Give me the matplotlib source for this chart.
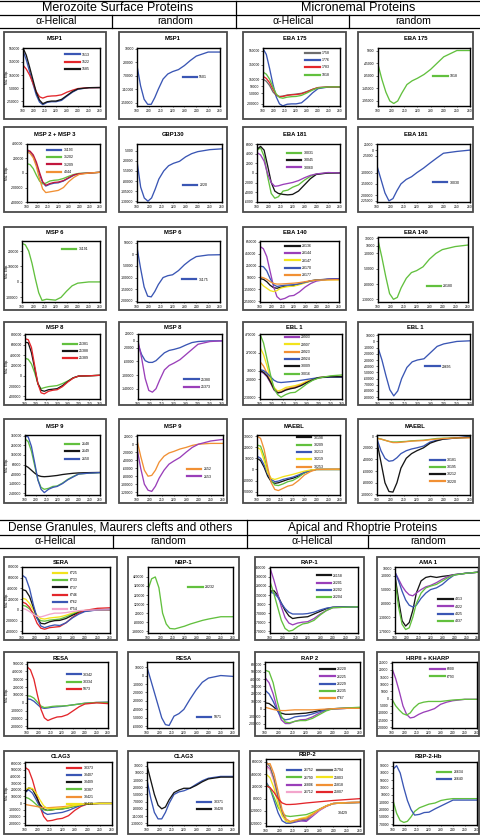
import matplotlib
matplotlib.use("Agg")
import matplotlib.pyplot as plt
from matplotlib.patches import Rectangle
from matplotlib.lines import Line2D

plt.rcParams['font.family'] = ['Liberation Sans', 'DejaVu Sans']

# ---------------------------------------------------------------- data
# wavelengths (nm) at which the curves were read; values are in thousands (Mol. Ellip.)
WL = [190, 193, 196, 199, 202, 205, 208, 212, 216, 220, 225, 230, 235, 240, 250, 260]
XTICKS = [190, 200, 210, 220, 230, 240, 250, 260]

MSP1_A_LABELS = ['1513', '1522', '1585']
MSP1_A_VALUES = [[520, 380, 200, 20, -150, -260, -300, -265, -255, -255, -235, -170, -110, -65, -42, -40],
                 [300, 240, 150, 30, -100, -180, -200, -175, -168, -165, -150, -110, -80, -55, -42, -40],
                 [560, 450, 270, 80, -110, -230, -285, -255, -245, -245, -220, -160, -100, -60, -42, -40]]
MSP1_A_YTICKS = [550, 350, 150, -50, -250]

MSP1_R_LABELS = ['5501']
MSP1_R_VALUES = [[-40, -100, -140, -155, -155, -135, -110, -80, -65, -58, -52, -40, -25, -12, 0, 0]]
MSP1_R_YTICKS = [10, -30, -70, -110, -150]

EBA175_A_LABELS = ['1758', '1776', '1783', '1818']
EBA175_A_VALUES = [[150, 120, 60, -30, -80, -95, -90, -75, -68, -62, -50, -25, 5, 30, 40, 40],
                   [580, 500, 300, 80, -100, -200, -228, -205, -200, -200, -185, -120, -45, 15, 40, 40],
                   [190, 160, 100, 10, -70, -100, -95, -80, -72, -68, -58, -30, 5, 30, 40, 40],
                   [250, 220, 150, 40, -60, -110, -120, -105, -98, -95, -80, -45, -5, 25, 40, 40]]
EBA175_A_YTICKS = [550, 350, 150, 50, -50, -200]

EBA175_R_LABELS = ['1818']
EBA175_R_VALUES = [[-50, -110, -160, -195, -205, -195, -165, -130, -115, -105, -90, -70, -45, -20, 5, 5]]
EBA175_R_YTICKS = [5, -45, -95, -145, -195]

MSP23_LABELS = ['31193', '31202', '31209', '4044']
MSP23_VALUES = [[310, 290, 230, 120, -20, -130, -180, -155, -140, -135, -110, -70, -30, -10, 0, 10],
                [130, 115, 60, -30, -110, -150, -140, -110, -100, -95, -75, -45, -20, -5, 0, 10],
                [320, 300, 250, 150, 10, -120, -170, -145, -130, -125, -105, -65, -25, -10, 0, 10],
                [290, 270, 210, 90, -80, -220, -270, -260, -250, -240, -200, -120, -60, -20, 0, 10]]
MSP23_YTICKS = [400, 200, 0, -200, -400]

GBP130_LABELS = ['2220']
GBP130_VALUES = [[-30, -95, -122, -130, -122, -100, -75, -55, -42, -36, -31, -20, -12, -7, -2, 0]]
GBP130_YTICKS = [-5, -30, -55, -80, -105, -130]

EBA181_A_LABELS = ['30031', '30045', '30060']
EBA181_A_VALUES = [[4.8, 5.3, 3.5, -0.8, -4.3, -5.3, -5.0, -3.8, -3.6, -3.0, -2.5, -1.5, -0.7, -0.2, 0, 0],
                   [5.0, 5.6, 4.8, 1.5, -2.0, -3.8, -4.3, -4.5, -4.6, -4.5, -3.8, -2.5, -1.2, -0.3, 0, 0],
                   [4.3, 3.8, 2.5, -0.2, -2.0, -2.8, -2.7, -2.4, -2.2, -2.0, -1.6, -1.0, -0.5, -0.2, 0.1, 0]]
EBA181_A_YTICKS = [6, 4, 2, 0, -2, -4, -6]

EBA181_R_LABELS = ['30030']
EBA181_R_VALUES = [[-70, -130, -190, -225, -215, -180, -150, -130, -118, -100, -80, -57, -35, -14, -6, 0]]
EBA181_R_YTICKS = [25, 0, -25, -100, -150, -200, -225]

MSP6_A_LABELS = ['31191']
MSP6_A_VALUES = [[250, 240, 200, 120, 20, -70, -120, -112, -115, -118, -100, -60, -25, -8, 0, 0]]
MSP6_A_YTICKS = [200, 100, 0, -100]

MSP6_R_LABELS = ['31175']
MSP6_R_VALUES = [[30, -60, -140, -180, -183, -160, -130, -100, -92, -88, -70, -45, -25, -10, -3, -2]]
MSP6_R_YTICKS = [50, 0, -50, -100, -150, -200]

EBA140_A_LABELS = ['28136', '28144', '28147', '28170', '28177']
EBA140_A_VALUES = [[30, 20, -20, -80, -120, -130, -115, -100, -95, -85, -60, -30, -5, 10, 20, 30],
                   [570, 530, 400, 150, -100, -270, -320, -300, -260, -250, -190, -110, -50, -10, 20, 30],
                   [-30, -90, -130, -170, -185, -170, -130, -110, -100, -95, -70, -40, -10, 5, 10, 10],
                   [240, 230, 160, 30, -70, -100, -90, -80, -75, -70, -55, -30, -10, 5, 20, 25],
                   [60, 45, 20, -20, -50, -60, -60, -55, -50, -45, -35, -20, -5, 5, 10, 15]]
EBA140_A_YTICKS = [650, 450, 250, 50, -150, -350]

EBA140_R_LABELS = ['28180']
EBA140_R_VALUES = [[25, -20, -70, -115, -130, -125, -100, -75, -60, -55, -45, -25, -10, 0, 8, 12]]
EBA140_R_YTICKS = [30, 10, -10, -50, -90, -130]

MSP8_A_LABELS = ['25381', '25388', '25389']
MSP8_A_VALUES = [[340, 320, 230, 60, -150, -250, -230, -210, -200, -190, -150, -100, -40, -10, 0, 10],
                 [650, 640, 450, 150, -150, -280, -300, -270, -260, -250, -190, -110, -40, -5, 0, 10],
                 [720, 700, 550, 200, -150, -330, -350, -300, -280, -270, -210, -120, -45, -5, 0, 10]]
MSP8_A_YTICKS = [800, 600, 400, 200, 0, -200, -400]

MSP8_R_LABELS = ['25380', '25373']
MSP8_R_VALUES = [[-10, -40, -58, -63, -63, -58, -48, -35, -28, -25, -20, -12, -5, -2, 0, 0],
                 [0, -50, -110, -145, -150, -140, -115, -85, -72, -65, -55, -40, -25, -10, -2, 0]]
MSP8_R_YTICKS = [20, 0, -20, -60, -100, -140]

EBL1_A_LABELS = ['29903', '29907', '29923', '29924', '30009', '30016']
EBL1_A_VALUES = [[60, 40, 0, -70, -150, -185, -170, -145, -130, -120, -95, -60, -30, -10, 0, 0],
                 [330, 250, 120, -30, -120, -160, -150, -120, -110, -100, -80, -50, -30, -10, 0, 5],
                 [170, 120, 40, -60, -140, -175, -170, -140, -125, -115, -90, -60, -30, -10, 0, 0],
                 [80, 70, 40, 0, -40, -60, -65, -60, -55, -50, -40, -30, -20, -10, -5, -5],
                 [70, 50, 10, -60, -140, -180, -175, -150, -135, -125, -100, -65, -35, -10, 0, 0],
                 [480, 380, 200, 20, -130, -200, -230, -200, -180, -175, -130, -80, -40, -15, 10, 20]]
EBL1_A_YTICKS = [470, 270, 70, -30, -230]

EBL1_R_LABELS = ['29695']
EBL1_R_VALUES = [[-10, -30, -55, -78, -88, -80, -60, -42, -33, -30, -28, -18, -8, -4, 0, 1]]
EBL1_R_YTICKS = [10, 0, -10, -20, -30, -40, -50, -60, -70, -80, -90]

MSP9_A_LABELS = ['2148', '2149', '2150']
MSP9_A_VALUES = [[330, 300, 200, 50, -100, -180, -200, -190, -170, -165, -135, -95, -65, -40, -30, -25],
                 [50, 30, 0, -30, -55, -65, -68, -65, -60, -55, -45, -38, -32, -28, -25, -23],
                 [360, 350, 250, 80, -100, -200, -235, -200, -180, -170, -140, -100, -70, -40, -30, -25]]
MSP9_A_YTICKS = [360, 260, 160, 60, -40, -140, -240]

MSP9_R_LABELS = ['2152', '2153']
MSP9_R_VALUES = [[10, -30, -65, -80, -78, -65, -45, -30, -22, -18, -12, -8, -3, 0, 2, 2],
                 [-10, -60, -100, -115, -118, -105, -85, -65, -50, -42, -33, -20, -8, 0, 8, 12]]
MSP9_R_YTICKS = [20, 0, -20, -40, -60, -80, -100, -120]

MAEBL_A_LABELS = ['30198', '30209', '30213', '30219', '30253']
MAEBL_A_VALUES = [[10, 8, 2, -6, -11, -12.5, -12, -10.5, -9, -8, -6, -3, -1, 0, 0, 0],
                  [22, 21, 12, -2, -10, -14, -14.5, -13, -11, -10, -7, -3, -1, 0, 0, 0],
                  [12, 10, 4, -4, -9, -11, -10.5, -9, -8, -7, -5, -2.5, -1, 0, 0, 0],
                  [20, 18, 8, -3, -8, -9, -8, -6.5, -5.5, -4.5, -3, -1.5, -0.5, 0, 0, 0],
                  [30, 28, 18, 2, -12, -18, -19, -17, -15, -14, -10, -5, -2, 0, 0.2, 0.3]]
MAEBL_A_YTICKS = [30, 20, 10, 0, -10, -20]

MAEBL_R_LABELS = ['30181', '30195', '30212', '30220']
MAEBL_R_VALUES = [[-5, -25, -38, -43, -42, -37, -30, -25, -22, -20, -17, -10, -7, -5, -3, 0],
                  [-3, -5, -7, -9, -10, -10, -9.5, -9, -8, -7.5, -7, -5.5, -4, -3.5, -3, -2],
                  [-10, -45, -80, -95, -96, -80, -55, -38, -30, -25, -20, -12, -8, -5, -3, -2],
                  [-4, -5, -7, -9, -11, -11, -10.5, -9.5, -8.5, -8, -7.5, -6, -5, -4, -3, -3]]
MAEBL_R_YTICKS = [0, -20, -40, -60, -80, -100]

SERA_LABELS = ['6725', '6733', '6737', '6746', '6762', '6754']
SERA_VALUES = [[220, 200, 120, 0, -100, -160, -170, -150, -140, -130, -100, -60, -30, -10, 0, 0],
               [90, 70, 20, -60, -150, -200, -210, -190, -180, -170, -130, -80, -40, -15, 0, 0],
               [380, 360, 250, 50, -150, -250, -260, -220, -200, -195, -160, -100, -50, -20, 0, 0],
               [150, 120, 50, -80, -250, -340, -360, -330, -320, -310, -240, -140, -60, -10, 30, 40],
               [650, 600, 400, 100, -150, -300, -330, -300, -280, -290, -240, -150, -80, -30, 0, 10],
               [30, 10, -30, -80, -120, -130, -110, -80, -60, -60, -50, -30, -15, -5, 0, 0]]
SERA_YTICKS = [800, 600, 400, 200, 0, -200, -400]

NBP1_LABELS = ['28232']
NBP1_VALUES = [[280, 400, 420, 300, 20, -100, -150, -155, -140, -125, -100, -80, -60, -45, -20, -20]]
NBP1_YTICKS = [420, 320, 220, 120, 20, -80, -180]

RAP1_LABELS = ['26158', '26201', '26202', '26204']
RAP1_VALUES = [[170, 180, 130, 40, -40, -100, -130, -120, -115, -110, -80, -50, -20, -5, 0, 0],
               [430, 300, 150, 0, -120, -180, -200, -180, -170, -165, -130, -80, -40, -10, -5, 0],
               [160, 150, 110, 40, -20, -60, -80, -80, -80, -75, -60, -35, -15, -5, -2, 0],
               [280, 150, 0, -150, -240, -270, -260, -220, -190, -180, -150, -90, -40, -10, -5, 0]]
RAP1_YTICKS = [430, 330, 230, 130, 30, -70, -170, -270]

AMA1_LABELS = ['4313', '4322', '4325', '4337']
AMA1_VALUES = [[-10, -80, -140, -155, -145, -110, -60, -25, -15, -12, -15, -12, -10, -7, -3, 0],
               [0, -20, -40, -55, -65, -68, -60, -50, -42, -38, -30, -20, -12, -7, -3, 0],
               [0, -25, -55, -80, -95, -100, -95, -75, -60, -50, -45, -35, -20, -8, -3, 0],
               [-20, -100, -150, -165, -160, -130, -90, -60, -45, -40, -35, -25, -15, -8, -3, 0]]
AMA1_YTICKS = [10, -10, -50, -90, -130, -170]

RESA_A_LABELS = ['30342', '30334', '5873']
RESA_A_VALUES = [[50, 45, 20, -20, -60, -70, -65, -55, -50, -45, -35, -25, -15, -5, 5, 10],
                 [90, 85, 60, 10, -40, -60, -55, -45, -40, -40, -35, -25, -15, -5, 5, 5],
                 [460, 420, 300, 100, -80, -190, -225, -200, -180, -175, -150, -100, -50, -15, 0, -10]]
RESA_A_YTICKS = [500, 400, 300, 200, 100, 0, -100, -200, -300]

RESA_R_LABELS = ['5871']
RESA_R_VALUES = [[10, -5, -20, -35, -50, -58, -59, -48, -45, -40, -28, -17, -8, -3, 0, -1]]
RESA_R_YTICKS = [10, 0, -10, -20, -30, -40, -50, -60]

RAP2_LABELS = ['26220', '26225', '26229', '26235', '6767']
RAP2_VALUES = [[80, 70, 30, -20, -60, -75, -75, -70, -65, -60, -45, -25, -10, 0, 5, 10],
               [420, 350, 200, 0, -150, -200, -200, -170, -150, -145, -110, -60, -20, 0, 5, 10],
               [250, 200, 100, -20, -120, -150, -140, -110, -100, -95, -70, -40, -15, 0, 5, 10],
               [520, 500, 350, 100, -100, -180, -190, -170, -160, -160, -130, -80, -30, 0, 10, 20],
               [20, 5, -10, -20, -25, -25, -20, -15, -15, -15, -15, -10, -5, 0, 5, 5]]
RAP2_YTICKS = [600, 500, 400, 300, 200, 100, 0, -100, -200]

HRP_LABELS = ['6800', '6793']
HRP_VALUES = [[21, 14, 5, -5, -11, -13.5, -13, -11, -9.5, -8.5, -7, -4, -2.5, -1.5, -0.5, -0.5],
              [-0.5, -5, -8, -10.5, -11.5, -10, -6.5, -3.5, -2.5, -2, -2, -2, -1.5, -1, -0.5, -0.5]]
HRP_YTICKS = [25, 20, 15, 10, 5, 0, -5, -10, -15, -20]

CLAG3_A_LABELS = ['30373', '30407', '30409', '30387', '30421', '30439']
CLAG3_A_VALUES = [[540, 500, 350, 150, -50, -200, -270, -260, -240, -230, -190, -110, -50, -15, -5, -5],
                  [160, 200, 150, 50, -60, -140, -170, -160, -150, -140, -110, -70, -35, -15, -5, -5],
                  [160, 230, 210, 100, -20, -90, -110, -100, -90, -85, -70, -45, -25, -10, -5, -5],
                  [90, 70, 30, -20, -70, -100, -110, -100, -90, -90, -70, -45, -25, -10, -5, -5],
                  [-20, -30, -40, -50, -60, -70, -70, -65, -60, -55, -45, -30, -20, -10, -5, -5],
                  [200, 230, 220, 150, 50, -40, -80, -80, -75, -70, -55, -35, -20, -10, -5, -5]]
CLAG3_A_YTICKS = [600, 500, 400, 300, 200, 100, 0, -100, -200, -300]

CLAG3_R_LABELS = ['30371', '30428']
CLAG3_R_VALUES = [[-10, -60, -100, -118, -118, -100, -75, -50, -43, -40, -33, -22, -12, -5, 0, 0],
                  [30, -10, -50, -80, -90, -85, -65, -45, -38, -33, -33, -25, -15, -7, -2, -2]]
CLAG3_R_YTICKS = [30, 10, -10, -30, -50, -70, -90, -110, -130]

RBP2_LABELS = ['26752', '26790', '26806', '26712', '25794', '25803', '25818', '25807']
RBP2_VALUES = [[350, 250, 50, -150, -280, -320, -320, -300, -280, -270, -180, -100, -40, 0, 15, 20],
               [320, 250, 100, -60, -160, -200, -210, -200, -190, -180, -140, -90, -40, 0, 15, 20],
               [620, 560, 380, 100, -150, -280, -310, -290, -280, -290, -200, -110, -45, 0, 15, 20],
               [600, 550, 350, 80, -160, -280, -300, -280, -260, -250, -180, -100, -40, 0, 15, 20],
               [680, 600, 400, 100, -150, -290, -310, -280, -260, -250, -170, -90, -35, 0, 10, 15],
               [480, 420, 250, 0, -200, -290, -300, -270, -240, -220, -160, -90, -35, 0, 15, 20],
               [640, 650, 480, 200, -100, -250, -290, -270, -250, -240, -170, -95, -40, 0, 15, 20],
               [290, 260, 180, 80, 10, -15, -15, -10, 0, 10, 20, 30, 40, 50, 65, 80]]
RBP2_YTICKS = [680, 480, 280, 80, -120, -320]
RBP2_NOTE = '30429'

RBP2HB_LABELS = ['26634', '26640']
RBP2HB_VALUES = [[-5, -40, -60, -65, -62, -50, -35, -25, -20, -15, -12, -5, -2, 0, 0, 0],
                 [80, 90, 70, 30, -5, -30, -45, -43, -38, -37, -28, -20, -12, -4, -4, -4]]
RBP2HB_YTICKS = [90, 70, 50, 30, 10, -10, -30, -50, -70]

# ---------------------------------------------------------------- styles
BLUE, RED, GREEN, BLACK = '#3a56b4', '#e3262b', '#62c03e', '#161616'
PURPLE, YELLOW, ORANGE, GRAY = '#9a3fb9', '#f2e31c', '#f19034', '#6e6e6e'
PINK, CRIMSON = '#f3a5cc', '#c2173e'

W, H = 480, 835
fig = plt.figure(figsize=(4.8, 8.35), dpi=100)
fig.patch.set_facecolor('white')


def fx(x):
    return x / W


def fy(y):
    return 1 - y / H


def hline(y, x0=0, x1=W, lw=0.9):
    fig.add_artist(Line2D([fx(x0), fx(x1)], [fy(y), fy(y)], transform=fig.transFigure,
                          color='black', lw=lw))


def vline(x, y0, y1, lw=0.9):
    fig.add_artist(Line2D([fx(x), fx(x)], [fy(y0), fy(y1)], transform=fig.transFigure,
                          color='black', lw=lw))


def ftext(x, y, s, size, **kw):
    fig.text(fx(x), fy(y), s, fontsize=size, ha='center', va='center', **kw)


# headers ---------------------------------------------------------
hline(1); hline(14.5); hline(28)
vline(236, 1, 28); vline(112, 14.5, 28); vline(349, 14.5, 28)
ftext(118, 8, 'Merozoite Surface Proteins', 9)
ftext(358, 8, 'Micronemal Proteins', 9)
ftext(56, 21.5, 'α-Helical', 7.6)
ftext(175, 21.5, 'random', 7.6)
ftext(293, 21.5, 'α-Helical', 7.6)
ftext(413, 21.5, 'random', 7.6)

hline(520); hline(535); hline(548)
vline(247, 520, 548); vline(113, 535, 548); vline(368, 535, 548)
ftext(120, 528, 'Dense Granules, Maurers clefts and others', 8.5)
ftext(363, 528, 'Apical and Rhoptrie Proteins', 8.5)
ftext(55, 541.5, 'α-Helical', 7.6)
ftext(168, 541.5, 'random', 7.6)
ftext(312, 541.5, 'α-Helical', 7.6)
ftext(428, 541.5, 'random', 7.6)

# rows: (box top, box bottom, plot top, plot bottom, title y)
UP_ROWS = [(32, 119, 48, 106, 39), (127, 212, 144, 202, 135), (227, 310, 241, 302, 233),
           (322, 405, 334, 399, 328), (419, 503, 435, 495, 426)]
LO_ROWS = [(557, 640, 567, 633, 562), (652, 736, 662, 728, 658), (751, 834, 762, 825, 757)]
UP_COLS = [(4, 106), (119, 227), (243, 346), (358, 473)]
LO_COLS = [(4, 117), (128, 239), (255, 364), (377, 479)]


def panel(row, col, lower, plotx, title, labels, values, colors, ylim, yticks, leg,
          ylabel=False, ncol=1, scale=1000, plot_y=None, boxx=None, title_y=None):
    rows = LO_ROWS if lower else UP_ROWS
    cols = LO_COLS if lower else UP_COLS
    by0, by1, py0, py1, ty = rows[row]
    bx0, bx1 = cols[col] if boxx is None else boxx
    if plot_y is not None:
        py0, py1 = plot_y
    if title_y is not None:
        ty = title_y
    fig.add_artist(Rectangle((fx(bx0), fy(by1)), (bx1 - bx0) / W, (by1 - by0) / H,
                             transform=fig.transFigure, fill=False, ec='#4a4a4a', lw=1.3))
    px0, px1 = plotx
    ax = fig.add_axes([fx(px0), fy(py1), (px1 - px0) / W, (py1 - py0) / H])
    for lab, v, c in zip(labels, values, colors):
        ax.plot(WL, v, color=c, lw=0.95, label=lab)
    ax.set_xlim(190, 260)
    ax.set_ylim(*ylim)
    ax.set_xticks(XTICKS)
    ax.set_xticklabels([str(t) for t in XTICKS])
    ax.set_yticks(yticks)
    ax.set_yticklabels([f"{round(t * scale)}" for t in yticks])
    ax.tick_params(labelsize=2.4, length=1.4, width=0.4, pad=1.0)
    ax.tick_params(axis='x', length=1.0)
    for s in ax.spines.values():
        s.set_linewidth(1.0)
    ftext((bx0 + bx1) / 2, ty, title, 4.2, fontweight='bold')
    handles = [Line2D([0], [0], color=c, lw=1.6) for c in colors]
    ax.legend(handles, labels, loc='upper left', bbox_to_anchor=leg, frameon=False,
              fontsize=2.5, handlelength=4.2, handletextpad=0.6, labelspacing=0.95,
              borderaxespad=0, borderpad=0, ncol=ncol, columnspacing=1.2)
    if ylabel:
        ftext(bx0 + 3.0, (py0 + py1) / 2, 'Mol. Ellip.', 2.3, rotation=90)
    return ax


# upper section ---------------------------------------------------
panel(0, 0, False, (23, 100), 'MSP1', MSP1_A_LABELS, MSP1_A_VALUES, [BLUE, RED, BLACK],
      (-320, 560), MSP1_A_YTICKS, (0.55, 0.92), ylabel=True)
panel(0, 1, False, (137, 220), 'MSP1', MSP1_R_LABELS, MSP1_R_VALUES, [BLUE],
      (-160, 12), MSP1_R_YTICKS, (0.55, 0.53))
panel(0, 2, False, (263, 340), 'EBA 175', EBA175_A_LABELS, EBA175_A_VALUES, [GRAY, BLUE, RED, GREEN],
      (-230, 590), EBA175_A_YTICKS, (0.55, 0.95))
panel(0, 3, False, (378, 470), 'EBA 175', EBA175_R_LABELS, EBA175_R_VALUES, [GREEN],
      (-215, 15), EBA175_R_YTICKS, (0.6, 0.55))

panel(1, 0, False, (27, 100), 'MSP 2 + MSP 3', MSP23_LABELS, MSP23_VALUES, [BLUE, GREEN, CRIMSON, ORANGE],
      (-400, 400), MSP23_YTICKS, (0.27, 0.93), ylabel=True)
panel(1, 1, False, (137, 222), 'GBP130', GBP130_LABELS, GBP130_VALUES, [BLUE],
      (-132, 12), GBP130_YTICKS, (0.54, 0.32))
panel(1, 2, False, (257, 340), 'EBA 181', EBA181_A_LABELS, EBA181_A_VALUES, [GREEN, BLACK, PURPLE],
      (-6.1, 6.1), EBA181_A_YTICKS, (0.36, 0.88))
panel(1, 3, False, (377, 470), 'EBA 181', EBA181_R_LABELS, EBA181_R_VALUES, [BLUE],
      (-230, 27), EBA181_R_YTICKS, (0.6, 0.37))

panel(2, 0, False, (22, 100), 'MSP 6', MSP6_A_LABELS, MSP6_A_VALUES, [GREEN],
      (-130, 265), MSP6_A_YTICKS, (0.51, 0.9), ylabel=True)
panel(2, 1, False, (137, 220), 'MSP 6', MSP6_R_LABELS, MSP6_R_VALUES, [BLUE],
      (-205, 57), MSP6_R_YTICKS, (0.54, 0.40))
panel(2, 2, False, (260, 339), 'EBA 140', EBA140_A_LABELS, EBA140_A_VALUES, [BLACK, PURPLE, YELLOW, BLUE, ORANGE],
      (-360, 660), EBA140_A_YTICKS, (0.32, 0.95))
panel(2, 3, False, (378, 468), 'EBA 140', EBA140_R_LABELS, EBA140_R_VALUES, [GREEN],
      (-137, 33), EBA140_R_YTICKS, (0.54, 0.27), plot_y=(237, 302))

panel(3, 0, False, (25, 100), 'MSP 8', MSP8_A_LABELS, MSP8_A_VALUES, [GREEN, BLACK, RED],
      (-450, 810), MSP8_A_YTICKS, (0.5, 0.88), ylabel=True)
panel(3, 1, False, (138, 222), 'MSP 8', MSP8_R_LABELS, MSP8_R_VALUES, [BLUE, PURPLE],
      (-170, 20), MSP8_R_YTICKS, (0.55, 0.33))
panel(3, 2, False, (260, 342), 'EBL 1', EBL1_A_LABELS, EBL1_A_VALUES, [PURPLE, YELLOW, ORANGE, BLUE, BLACK, GREEN],
      (-250, 480), EBL1_A_YTICKS, (0.3, 0.98))
panel(3, 3, False, (378, 470), 'EBL 1', EBL1_R_LABELS, EBL1_R_VALUES, [BLUE],
      (-93, 12), EBL1_R_YTICKS, (0.51, 0.53))

panel(4, 0, False, (25, 100), 'MSP 9', MSP9_A_LABELS, MSP9_A_VALUES, [GREEN, BLACK, BLUE],
      (-260, 370), MSP9_A_YTICKS, (0.53, 0.88), ylabel=True)
panel(4, 1, False, (137, 223), 'MSP 9', MSP9_R_LABELS, MSP9_R_VALUES, [ORANGE, PURPLE],
      (-127, 23), MSP9_R_YTICKS, (0.58, 0.46))
panel(4, 2, False, (257, 340), 'MAEBL', MAEBL_A_LABELS, MAEBL_A_VALUES, [BLACK, GREEN, BLUE, YELLOW, ORANGE],
      (-23, 31), MAEBL_A_YTICKS, (0.48, 0.99))
panel(4, 3, False, (377, 470), 'MAEBL', MAEBL_R_LABELS, MAEBL_R_VALUES, [BLUE, GREEN, BLACK, ORANGE],
      (-101, 2), MAEBL_R_YTICKS, (0.57, 0.62))

# lower section ---------------------------------------------------
panel(0, 0, True, (22, 110), 'SERA', SERA_LABELS, SERA_VALUES, [YELLOW, GREEN, BLACK, RED, BLUE, PINK],
      (-430, 800), SERA_YTICKS, (0.35, 0.94), ylabel=True)
panel(0, 1, True, (148, 233), 'NBP-1', NBP1_LABELS, NBP1_VALUES, [GREEN],
      (-200, 530), NBP1_YTICKS, (0.47, 0.73))
panel(0, 2, True, (270, 358), 'RAP-1', RAP1_LABELS, RAP1_VALUES, [BLACK, PURPLE, BLUE, GREEN],
      (-290, 440), RAP1_YTICKS, (0.53, 0.9))
panel(0, 3, True, (395, 478), 'AMA 1', AMA1_LABELS, AMA1_VALUES, [BLACK, PURPLE, BLUE, GREEN],
      (-175, 15), AMA1_YTICKS, (0.52, 0.54))

panel(1, 0, True, (27, 108), 'RESA', RESA_A_LABELS, RESA_A_VALUES, [BLUE, GREEN, RED],
      (-320, 520), RESA_A_YTICKS, (0.49, 0.84), ylabel=True)
panel(1, 1, True, (147, 233), 'RESA', RESA_R_LABELS, RESA_R_VALUES, [BLUE],
      (-62, 16), RESA_R_YTICKS, (0.58, 0.2))
panel(1, 2, True, (265, 360), 'RAP 2', RAP2_LABELS, RAP2_VALUES, [BLACK, PURPLE, BLUE, GREEN, ORANGE],
      (-260, 630), RAP2_YTICKS, (0.58, 0.92))
panel(1, 3, True, (392, 477), 'HRPII + KHARP', HRP_LABELS, HRP_VALUES, [PURPLE, GREEN],
      (-20.5, 25.5), HRP_YTICKS, (0.45, 0.92))

panel(2, 0, True, (25, 112), 'CLAG3', CLAG3_A_LABELS, CLAG3_A_VALUES, [RED, BLUE, BLACK, GREEN, ORANGE, YELLOW],
      (-330, 620), CLAG3_A_YTICKS, (0.48, 0.94), ylabel=True)
panel(2, 1, True, (147, 233), 'CLAG3', CLAG3_R_LABELS, CLAG3_R_VALUES, [BLUE, BLACK],
      (-135, 40), CLAG3_R_YTICKS, (0.58, 0.4))
ax_rbp = panel(2, 2, True, (266, 360), 'RBP-2', RBP2_LABELS, RBP2_VALUES,
               [BLUE, GREEN, PURPLE, PINK, GRAY, YELLOW, ORANGE, RED],
               (-365, 725), RBP2_YTICKS, (0.22, 0.86), ncol=2, plot_y=(759, 826), boxx=(250, 364),
               title_y=754.5)
ax_rbp.text(247, -150, RBP2_NOTE, fontsize=2.5, ha='center', va='center')
panel(2, 3, True, (393, 477), 'RBP-2-Hb', RBP2HB_LABELS, RBP2HB_VALUES, [GREEN, BLUE],
      (-72, 100), RBP2HB_YTICKS, (0.52, 0.87))

fig.savefig('out.png', dpi=100, facecolor='white')
